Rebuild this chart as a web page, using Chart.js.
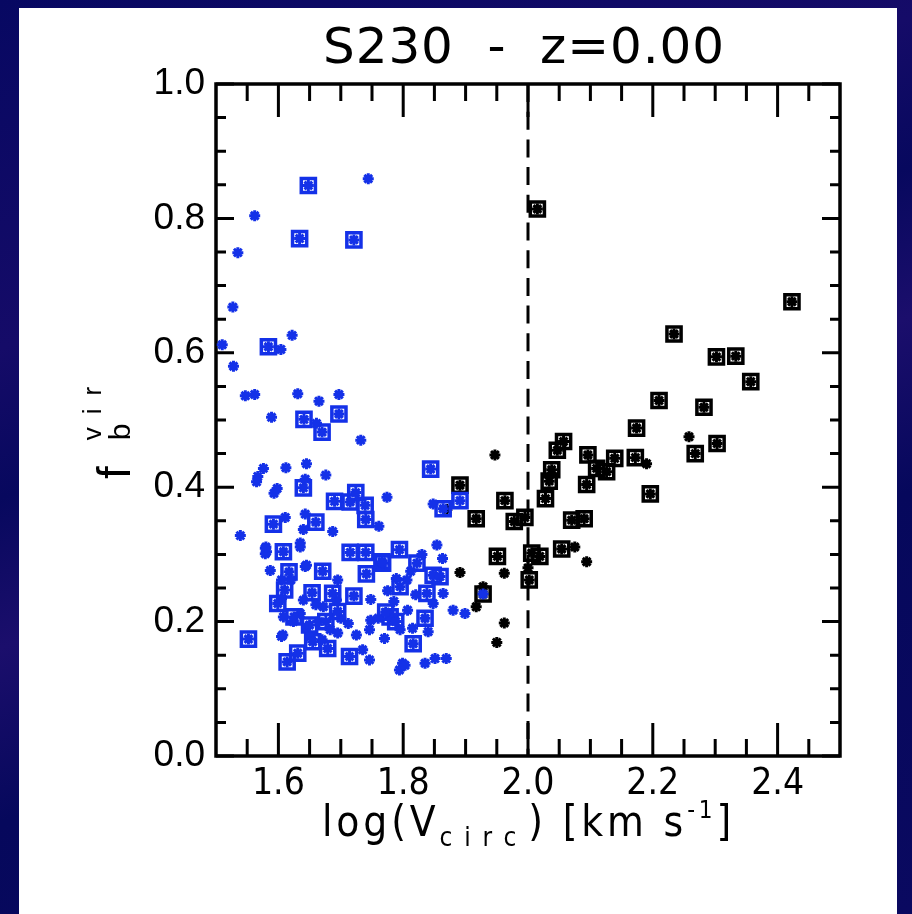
<!DOCTYPE html>
<html>
<head>
<meta charset="utf-8">
<title>S230 - z=0.00</title>
<script src="https://cdn.jsdelivr.net/npm/chart.js@4.4.1/dist/chart.umd.min.js"></script>
<style>
  html, body { margin: 0; padding: 0; }
  body {
    width: 912px; height: 914px; overflow: hidden; position: relative;
    background: linear-gradient(160deg, #070862 0%, #150b68 28%, #07085e 40%, #1b0e6c 52%, #06085c 66%, #0a0960 100%);
  }
  #panel { position: absolute; left: 19px; top: 8px; width: 878px; height: 906px; background: #fff; }
  #wrap { position: absolute; left: 0; top: 0; width: 912px; height: 914px; }
</style>
</head>
<body>
<div id="panel"></div>
<div id="wrap"><canvas id="chart" width="912" height="914"></canvas></div>
<script>
// haloes below the cut (blue) -- boxed ones first, then plain
const blueBoxX = [1.648, 1.634, 1.721, 1.584, 1.697, 1.641, 1.670, 1.640, 1.844, 1.690, 1.715, 1.724, 1.739,
  1.740, 1.592, 1.660, 1.608, 1.617, 1.715, 1.740, 1.741, 1.767, 1.794, 1.671, 1.610, 1.599, 1.654, 1.687,
  1.721, 1.552, 1.625, 1.676, 1.655, 1.631, 1.614, 1.679, 1.714, 1.891, 1.864, 1.848, 1.816, 1.835, 1.766,
  1.822, 1.795, 1.859, 1.838, 1.779, 1.772, 1.788, 1.650, 1.695];
const blueBoxY = [0.849, 0.770, 0.768, 0.609, 0.509, 0.501, 0.482, 0.399, 0.427, 0.379, 0.378, 0.392, 0.373,
  0.352, 0.345, 0.348, 0.304, 0.274, 0.303, 0.303, 0.271, 0.287, 0.307, 0.275, 0.247, 0.227, 0.243, 0.242,
  0.238, 0.174, 0.207, 0.200, 0.170, 0.153, 0.140, 0.160, 0.148, 0.380, 0.368, 0.269, 0.167, 0.205, 0.289,
  0.287, 0.252, 0.267, 0.242, 0.207, 0.214, 0.200, 0.195, 0.215];

const blueX = [1.744, 1.562, 1.535, 1.527, 1.622, 1.510, 1.604, 1.528, 1.547, 1.562, 1.631, 1.665, 1.697,
  1.589, 1.661, 1.732, 1.576, 1.567, 1.565, 1.612, 1.645, 1.676, 1.643, 1.593, 1.598, 1.774, 1.761, 1.611,
  1.643, 1.640, 1.687, 1.539, 1.579, 1.579, 1.635, 1.643, 1.587, 1.695, 1.748, 1.775, 1.807, 1.748, 1.746,
  1.770, 1.607, 1.735, 1.746, 1.799, 1.794, 1.848, 1.854, 1.863, 1.864, 1.880, 1.899, 1.851, 1.869, 1.835,
  1.803, 1.608, 1.624, 1.645, 1.664, 1.683, 1.651, 1.670, 1.695, 1.712, 1.605, 1.635, 1.640, 1.605, 1.605,
  1.672, 1.693, 1.789, 1.806, 1.581, 1.580, 1.645, 1.763, 1.848, 1.795, 1.635, 1.928, 1.820, 1.830, 1.812,
  1.785, 1.660, 1.620, 1.700, 1.725, 1.760, 1.815, 1.840];
const blueY = [0.859, 0.804, 0.749, 0.668, 0.626, 0.612, 0.605, 0.580, 0.536, 0.538, 0.539, 0.528, 0.538,
  0.504, 0.495, 0.470, 0.428, 0.416, 0.408, 0.429, 0.435, 0.418, 0.412, 0.391, 0.398, 0.385, 0.342, 0.355,
  0.360, 0.337, 0.334, 0.328, 0.309, 0.301, 0.317, 0.282, 0.276, 0.262, 0.233, 0.246, 0.217, 0.202, 0.188,
  0.175, 0.180, 0.158, 0.143, 0.138, 0.128, 0.375, 0.314, 0.294, 0.242, 0.217, 0.212, 0.145, 0.145, 0.138,
  0.135, 0.207, 0.200, 0.192, 0.200, 0.188, 0.178, 0.173, 0.183, 0.197, 0.178, 0.212, 0.232, 0.262, 0.234,
  0.222, 0.232, 0.264, 0.262, 0.304, 0.311, 0.284, 0.282, 0.227, 0.188, 0.311, 0.241, 0.240, 0.300, 0.275,
  0.230, 0.225, 0.262, 0.205, 0.180, 0.205, 0.190, 0.185];

// haloes above the cut (black)
const blackBoxX = [2.015, 2.423, 2.234, 2.302, 2.333, 2.357, 2.210, 2.282, 2.174, 2.303, 2.268, 2.172, 2.139,
  2.126, 2.110, 2.096, 2.094, 2.196, 2.057, 2.047, 2.038, 2.034, 2.028, 1.963, 1.978, 1.995, 2.070, 2.090,
  2.054, 1.891, 1.917, 1.951, 2.006, 2.019, 2.002, 1.928];
const blackBoxY = [0.814, 0.676, 0.628, 0.594, 0.595, 0.557, 0.529, 0.519, 0.488, 0.465, 0.450, 0.444, 0.443,
  0.423, 0.428, 0.448, 0.404, 0.390, 0.468, 0.455, 0.426, 0.409, 0.383, 0.380, 0.349, 0.355, 0.351, 0.353,
  0.308, 0.403, 0.353, 0.297, 0.302, 0.297, 0.262, 0.241];

const blackX = [2.258, 2.190, 1.947, 2.075, 2.094, 1.891, 1.962, 1.928, 1.917, 1.962, 1.950, 1.870, 2.000];
const blackY = [0.475, 0.435, 0.448, 0.311, 0.289, 0.273, 0.272, 0.252, 0.222, 0.198, 0.169, 0.367, 0.280];

const xTicks = [1.6, 1.8, 2.0, 2.2, 2.4];
const xMinor = [1.55, 1.65, 1.7, 1.75, 1.85, 1.9, 1.95, 2.05, 2.1, 2.15, 2.25, 2.3, 2.35, 2.45];
const yTicks = [0.0, 0.2, 0.4, 0.6, 0.8, 1.0];
const yMinor = [0.05, 0.1, 0.15, 0.25, 0.3, 0.35, 0.45, 0.5, 0.55, 0.65, 0.7, 0.75, 0.85, 0.9, 0.95];
const vCut = 2.0;

const BLUE = '#1431e8';
const BLACK = '#000000';
const narrow = '"Liberation Sans Narrow", "DejaVu Sans Condensed", "Liberation Sans", sans-serif';
const sans = '"Liberation Sans", Arial, sans-serif';

const pts = (xs, ys) => xs.map((x, i) => ({ x: x, y: ys[i] }));

const starStyle = (color) => ({ pointStyle: 'star', radius: 5.5, borderWidth: 3, borderColor: color, backgroundColor: color });
const boxStyle = (color) => ({ pointStyle: 'rect', radius: 10, borderWidth: 3.5, borderColor: color, backgroundColor: 'rgba(0,0,0,0)' });

// axes box, inward ticks on all four sides and the dashed cut
const framePlugin = {
  id: 'frame',
  beforeDatasetsDraw(chart) {
    const ctx = chart.ctx;
    const { left, right, top, bottom } = chart.chartArea;
    const xs = chart.scales.x, ys = chart.scales.y;
    ctx.save();
    ctx.strokeStyle = '#000';
    ctx.lineWidth = 3;
    const tickX = (v, len) => {
      const px = xs.getPixelForValue(v);
      ctx.beginPath();
      ctx.moveTo(px, bottom); ctx.lineTo(px, bottom - len);
      ctx.moveTo(px, top); ctx.lineTo(px, top + len);
      ctx.stroke();
    };
    const tickY = (v, len) => {
      const py = ys.getPixelForValue(v);
      ctx.beginPath();
      ctx.moveTo(left, py); ctx.lineTo(left + len, py);
      ctx.moveTo(right, py); ctx.lineTo(right - len, py);
      ctx.stroke();
    };
    xMinor.forEach(v => tickX(v, 17));
    xTicks.forEach(v => tickX(v, 33));
    yMinor.forEach(v => tickY(v, 10));
    yTicks.forEach(v => tickY(v, 18));

    // dashed line
    const cx = xs.getPixelForValue(vCut);
    ctx.setLineDash([18, 9.7]);
    ctx.beginPath();
    ctx.moveTo(cx, top); ctx.lineTo(cx, bottom);
    ctx.stroke();
    ctx.setLineDash([]);

    ctx.lineWidth = 3.5;
    ctx.strokeRect(left, top, right - left, bottom - top);
    ctx.restore();
  }
};

// text pieces along one baseline (sub/superscripts); extra spacing spreads it to a given length
function measureParts(ctx, parts, extra) {
  let w = 0;
  parts.forEach(p => {
    ctx.font = p.size + 'px ' + (p.family || narrow);
    ctx.letterSpacing = ((p.spacing || 0) + extra) + 'px';
    if (!p.stay) w += ctx.measureText(p.text).width;
  });
  return w;
}
function drawParts(ctx, parts, x, y, length) {
  let extra = 0;
  if (length) {
    const n = parts.reduce((a, p) => a + (p.stay ? 0 : p.text.length), 0);
    extra = (length - measureParts(ctx, parts, 0)) / n;
  }
  let u = x;
  parts.forEach(p => {
    ctx.font = p.size + 'px ' + (p.family || narrow);
    ctx.letterSpacing = ((p.spacing || 0) + extra) + 'px';
    ctx.fillText(p.text, u, y + (p.dy || 0));
    if (!p.stay) u += ctx.measureText(p.text).width;
  });
}

const textPlugin = {
  id: 'texts',
  afterDraw(chart) {
    const ctx = chart.ctx;
    ctx.save();
    ctx.fillStyle = '#000';
    ctx.textBaseline = 'alphabetic';
    ctx.textAlign = 'left';

    // title
    drawParts(ctx, [{ text: 'S230  -  z=0.00', size: 50, family: '"DejaVu Sans", sans-serif' }], 323, 63, 402);

    // x axis title
    const xt = [
      { text: 'log(V', size: 42 },
      { text: 'circ', size: 26, dy: 10, spacing: 8 },
      { text: ') [km s', size: 42 },
      { text: '-1', size: 24, dy: -18 },
      { text: ']', size: 42 }
    ];
    drawParts(ctx, xt, 322, 836, 413);

    // y axis title, rotated
    ctx.translate(130, 479);
    ctx.rotate(-Math.PI / 2);
    drawParts(ctx, [
      { text: 'f', size: 46, family: sans, spacing: 26 },
      { text: 'b', size: 30, family: sans, dy: 0, stay: true },
      { text: 'vir', size: 26, family: sans, dy: -29, spacing: 13 }
    ], 0, 0);
    ctx.restore();
  }
};

new Chart(document.getElementById('chart'), {
  type: 'scatter',
  data: {
    datasets: [
      Object.assign({ label: 'low', data: pts(blueX.concat(blueBoxX), blueY.concat(blueBoxY)) }, starStyle(BLUE)),
      Object.assign({ label: 'low boxed', data: pts(blueBoxX, blueBoxY) }, boxStyle(BLUE)),
      Object.assign({ label: 'high', data: pts(blackX.concat(blackBoxX), blackY.concat(blackBoxY)) }, starStyle(BLACK)),
      Object.assign({ label: 'high boxed', data: pts(blackBoxX, blackBoxY) }, boxStyle(BLACK))
    ]
  },
  options: {
    responsive: false,
    animation: false,
    events: [],
    clip: false,
    layout: { padding: { top: 84, right: 72, bottom: 0, left: 0 } },
    plugins: { legend: { display: false }, tooltip: { enabled: false }, title: { display: false } },
    scales: {
      x: {
        type: 'linear', min: 1.5, max: 2.5,
        afterBuildTicks: (s) => { s.ticks = xTicks.map(v => ({ value: v })); },
        afterFit: (s) => { s.height = 158; },
        grid: { display: false, drawTicks: false },
        border: { display: false },
        ticks: {
          padding: 6, color: '#000', autoSkip: false, maxRotation: 0,
          font: { family: narrow, size: 37 },
          callback: (v) => Number(v).toFixed(1)
        }
      },
      y: {
        type: 'linear', min: 0, max: 1,
        afterBuildTicks: (s) => { s.ticks = yTicks.map(v => ({ value: v })); },
        afterFit: (s) => { s.width = 216; },
        grid: { display: false, drawTicks: false },
        border: { display: false },
        ticks: {
          padding: 11, color: '#000', autoSkip: false,
          font: { family: sans, size: 37 },
          callback: (v) => Number(v).toFixed(1)
        }
      }
    }
  },
  plugins: [framePlugin, textPlugin]
});
</script>
</body>
</html>
